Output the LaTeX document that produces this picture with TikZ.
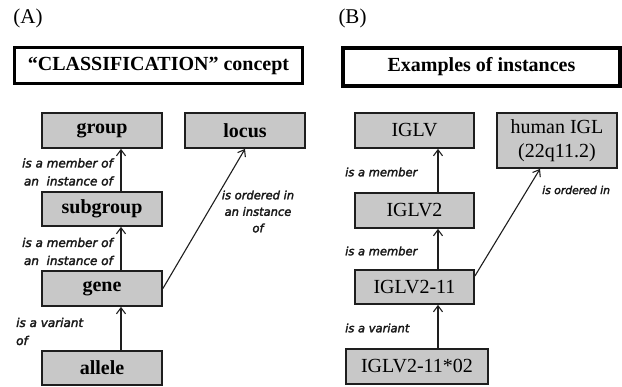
\documentclass[tikz,border=0pt]{standalone}
\usepackage{fontspec}
\setmainfont{Liberation Serif}
\newfontfamily\labfont[FakeBold=2.5,ItalicFeatures={FakeBold=2.5}]{DejaVu Sans}
\usetikzlibrary{arrows.meta}
\definecolor{boxgray}{RGB}{200,200,200}
\definecolor{edge}{RGB}{30,30,30}
\tikzset{
  gbox/.style={draw=edge, line width=1.8pt, fill=boxgray, inner sep=0pt, minimum width=120pt, minimum height=35pt, font=\fontsize{20}{22}\selectfont, align=center},
  tbox/.style={draw=black, line width=3.5pt, fill=white, inner sep=0pt, font=\bfseries\fontsize{20}{22}\selectfont},
  lab/.style={inner sep=0pt, font=\labfont\itshape\fontsize{12}{18}\selectfont, text=black!90},
  labr/.style={inner sep=0pt, font=\labfont\itshape\fontsize{11.5}{17}\selectfont, text=black!90},
  arr/.style={draw=edge, line width=1.1pt, -{Straight Barb[length=6pt,width=9pt,line width=1.1pt]}},
  panel/.style={inner sep=0pt, font=\fontsize{21}{24}\selectfont}
}
\begin{document}
\begin{tikzpicture}[x=1pt,y=-1pt]
\useasboundingbox (0,0) rectangle (622,387);
% panel A
\node[panel] (pA) at (28,18) {(A)};
\node[tbox, minimum width=288pt, minimum height=36pt] (tA) at (158.5,65.5) {“CLASSIFICATION” concept};
\node[gbox, font=\bfseries\fontsize{20}{22}\selectfont] (group) at (102,130.5) {group};
\node[gbox, font=\bfseries\fontsize{20}{22}\selectfont] (locus) at (245,130.5) {locus};
\node[gbox, font=\bfseries\fontsize{20}{22}\selectfont, minimum height=34pt] (subgroup) at (102,209) {subgroup};
\node[gbox, font=\bfseries\fontsize{20}{22}\selectfont] (gene) at (102,288.5) {gene};
\node[gbox, font=\bfseries\fontsize{20}{22}\selectfont, minimum height=34pt] (allele) at (102,368) {allele};
\draw[arr] ([xshift=19pt]subgroup.north) -- ([xshift=19pt]group.south);
\draw[arr] ([xshift=19pt]gene.north) -- ([xshift=19pt]subgroup.south);
\draw[arr] ([xshift=19pt]allele.north) -- ([xshift=19pt]gene.south);
\draw[arr] (gene.east) -- (locus.south);
\node[lab, align=right, anchor=east] (l1) at (113,172) {is a member of\\an\ \ instance of};
\node[lab, align=right, anchor=east] (l2) at (113,251.5) {is a member of\\an\ \ instance of};
\node[lab, align=left, anchor=west] (l3) at (16,331.5) {is a variant\\of};
\node[lab, align=center, font=\labfont\itshape\fontsize{11.5}{16.5}\selectfont] (l4) at (258,211.5) {is ordered in\\an instance\\of};
% panel B
\node[panel] (pB) at (352.5,18) {(B)};
\node[tbox, minimum width=277pt, minimum height=38pt] (tB) at (481.5,67) {Examples of instances};
\node[gbox, minimum width=119pt] (iglv) at (414.5,130.5) {IGLV};
\node[gbox, minimum height=55pt, font=\fontsize{20}{24}\selectfont] (hig) at (557,140.5) {human IGL\\(22q11.2)};
\node[gbox, minimum width=119pt] (iglv2) at (414.5,210.5) {IGLV2};
\node[gbox, minimum width=119pt, minimum height=34pt] (iglv211) at (414.5,287) {IGLV2-11};
\node[gbox, minimum width=142pt] (iglv21102) at (417,366.5) {IGLV2-11*02};
\draw[arr] ([xshift=23.5pt]iglv2.north) -- ([xshift=23.5pt]iglv.south);
\draw[arr] ([xshift=23.5pt]iglv211.north) -- ([xshift=23.5pt]iglv2.south);
\draw[arr] ([xshift=21pt]iglv21102.north) -- ([xshift=23.5pt]iglv211.south);
\draw[arr] ([yshift=11pt]iglv211.east) -- ([xshift=-17pt]hig.south);
\node[labr, anchor=west] (m1) at (345,172) {is a member};
\node[labr, anchor=west] (m2) at (345,251) {is a member};
\node[labr, anchor=west] (m3) at (345,328) {is a variant};
\node[labr, anchor=west, font=\labfont\itshape\fontsize{10.8}{13}\selectfont] (m4) at (542,190) {is ordered in};
\end{tikzpicture}
\end{document}
